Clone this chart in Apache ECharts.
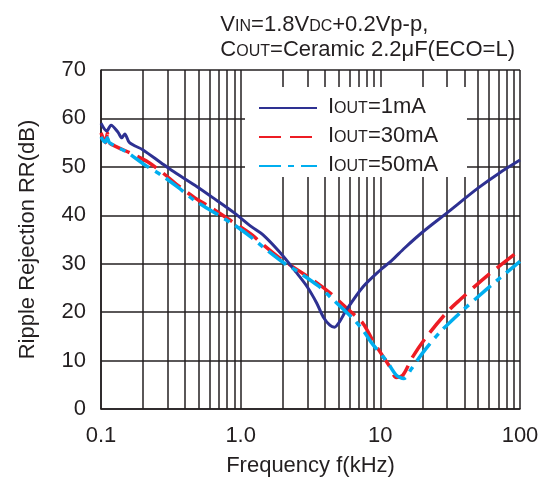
<!DOCTYPE html>
<html>
<head>
<meta charset="utf-8">
<script src="https://cdn.jsdelivr.net/npm/echarts@6/dist/echarts.min.js"></script>
<style>
  html, body { margin: 0; padding: 0; background: #fff; }
  #main { width: 549px; height: 483px; }
</style>
</head>
<body>
<div id="main"></div>
<script>
// data (frequency in kHz, rejection in dB)
const f1mA = [0.1, 0.11, 0.118, 0.132, 0.141, 0.148, 0.16, 0.2, 0.27, 0.32, 0.47, 0.62, 0.9, 1.2, 1.44, 1.9, 2.5, 3.0, 3.5, 3.9, 4.35, 4.7, 5.1, 5.7, 7.5, 10, 12, 15, 20, 30, 50, 70, 100];
const rr1mA = [59, 57.4, 58.6, 57.2, 56, 56.8, 55, 53.5, 50.8, 49.3, 46.2, 43.8, 40.5, 37.6, 36.0, 32.4, 28.2, 25.2, 21.9, 19.0, 17.3, 16.9, 18.0, 20.4, 25.2, 28.7, 30.6, 33.3, 36.5, 40.5, 45.6, 48.6, 51.4];

const f30mA = [0.1, 0.108, 0.111, 0.115, 0.122, 0.175, 0.217, 0.273, 0.355, 0.47, 0.62, 0.9, 1.2, 1.44, 1.9, 3.3, 4.35, 5.7, 7.5, 8.8, 11.7, 13, 14.5, 17, 21.4, 30, 37, 57, 100];
const rr30mA = [57, 55, 57, 55, 54.5, 52.4, 51, 48.9, 46.2, 43.6, 41.5, 38.4, 36.0, 34.0, 31.2, 26.6, 24, 20.9, 17.7, 14.2, 8.7, 6.5, 7, 10.7, 14.9, 20, 22.5, 27.3, 32.8];

const f50mA = [0.1, 0.107, 0.111, 0.115, 0.156, 0.206, 0.27, 0.355, 0.47, 0.62, 0.9, 1.2, 1.44, 2.05, 2.5, 3.6, 4.35, 6.3, 7.5, 8.8, 11.1, 13, 14.7, 16.7, 20.1, 26.4, 37, 57, 100];
const rr50mA = [56.2, 55.1, 56, 55, 52.9, 50.4, 48.3, 45.8, 43.0, 40.9, 38, 35.4, 33.5, 30.1, 28.6, 25.4, 23.2, 18.8, 16.3, 13.4, 9.9, 7.0, 6.3, 8.3, 11.6, 15.7, 19.8, 24.6, 30.5];

const seriesNames = ['IOUT=1mA', 'IOUT=30mA', 'IOUT=50mA'];
const xTickLabels = { '0.1': '0.1', '1': '1.0', '10': '10', '100': '100' };
const minorGrid = [0.2, 0.3, 0.4, 0.5, 0.6, 0.7, 0.8, 0.9, 2, 3, 4, 5, 6, 7, 8, 9, 20, 30, 40, 50, 60, 70, 80, 90];

const pairs = (xs, ys) => xs.map((x, i) => [x, ys[i]]);

const font = '"Liberation Sans", Arial, sans-serif';
const ink = '#231f20';

const chart = echarts.init(document.getElementById('main'));

const option = {
  animation: false,
  textStyle: { fontFamily: font, color: ink },
  title: {
    right: 29,
    top: 6,
    text: '{a|V}{s|IN}{a|=1.8V}{s|DC}{a|+0.2Vp-p,}\n{a|C}{s|OUT}{a|=Ceramic 2.2μF(ECO=L)}',
    textStyle: {
      fontWeight: 'normal',
      rich: {
        a: { fontSize: 22, fontFamily: font, fontWeight: 'normal', color: ink, lineHeight: 25, verticalAlign: 'bottom' },
        s: { fontSize: 16, fontFamily: font, fontWeight: 'normal', color: ink, lineHeight: 25, verticalAlign: 'bottom', padding: [0, 0, 1, 0] }
      }
    }
  },
  grid: { left: 101, right: 29, top: 70, bottom: 74 },
  legend: {
    orient: 'vertical',
    left: 258,
    top: 96,
    padding: 0,
    itemGap: 7,
    itemWidth: 58,
    itemHeight: 14,
    z: 10,
    data: seriesNames,
    itemStyle: { opacity: 0 },
    formatter: n => '{a|I}{b|OUT}{a|' + n.slice(4) + '}',
    textStyle: {
      padding: [0, 0, 0, 6],
      rich: {
        a: { fontSize: 22, fontFamily: font, color: ink, lineHeight: 20, verticalAlign: 'bottom' },
        b: { fontSize: 16, fontFamily: font, color: ink, lineHeight: 20, verticalAlign: 'bottom', padding: [0, 0, 1, 0] }
      }
    }
  },
  graphic: [{
    type: 'rect',
    z: 8,
    shape: { x: 245, y: 87, width: 222, height: 90 },
    style: { fill: '#fff' }
  }],
  xAxis: {
    type: 'log',
    logBase: 10,
    min: 0.1,
    max: 100,
    name: 'Frequency f(kHz)',
    nameLocation: 'middle',
    nameGap: 46,
    nameTextStyle: { fontSize: 22, fontFamily: font, color: ink },
    axisLine: { show: true, lineStyle: { color: ink, width: 1.5 } },
    axisTick: { show: false },
    axisLabel: {
      fontSize: 22, fontFamily: font, color: ink, margin: 16,
      formatter: v => xTickLabels[String(+v.toPrecision(3))] || ''
    },
    splitLine: { show: true, lineStyle: { color: ink, width: 1.5 } }
  },
  yAxis: {
    type: 'value',
    min: 0,
    max: 70,
    interval: 10,
    name: 'Ripple Rejection RR(dB)',
    nameLocation: 'middle',
    nameGap: 62,
    nameTextStyle: { fontSize: 22, fontFamily: font, color: ink },
    axisLine: { show: true, lineStyle: { color: ink, width: 1.5 } },
    axisTick: { show: false },
    axisLabel: { fontSize: 22, fontFamily: font, color: ink, margin: 15 },
    splitLine: { show: true, lineStyle: { color: ink, width: 1.5 } }
  },
  series: [
    {
      name: seriesNames[0],
      type: 'line',
      data: pairs(f1mA, rr1mA),
      showSymbol: false,
      symbol: 'none',
      smooth: 0.3,
      z: 4,
      lineStyle: { color: '#2e3192', width: 3 },
      itemStyle: { color: '#2e3192' },
      markLine: {
        silent: true,
        symbol: ['none', 'none'],
        label: { show: false },
        z: 1,
        lineStyle: { color: ink, width: 1.5, type: 'solid' },
        data: minorGrid.map(v => ({ xAxis: v }))
      }
    },
    {
      name: seriesNames[1],
      type: 'line',
      data: pairs(f30mA, rr30mA),
      showSymbol: false,
      symbol: 'none',
      smooth: 0.3,
      z: 3,
      lineStyle: { color: '#ed1c24', width: 3.5, type: [22, 9] },
      itemStyle: { color: '#ed1c24' }
    },
    {
      name: seriesNames[2],
      type: 'line',
      data: pairs(f50mA, rr50mA),
      showSymbol: false,
      symbol: 'none',
      smooth: 0.3,
      z: 5,
      lineStyle: { color: '#00aeef', width: 3.5, type: [22, 7, 6, 7] },
      itemStyle: { color: '#00aeef' }
    }
  ]
};

option && chart.setOption(option);
</script>
</body>
</html>
